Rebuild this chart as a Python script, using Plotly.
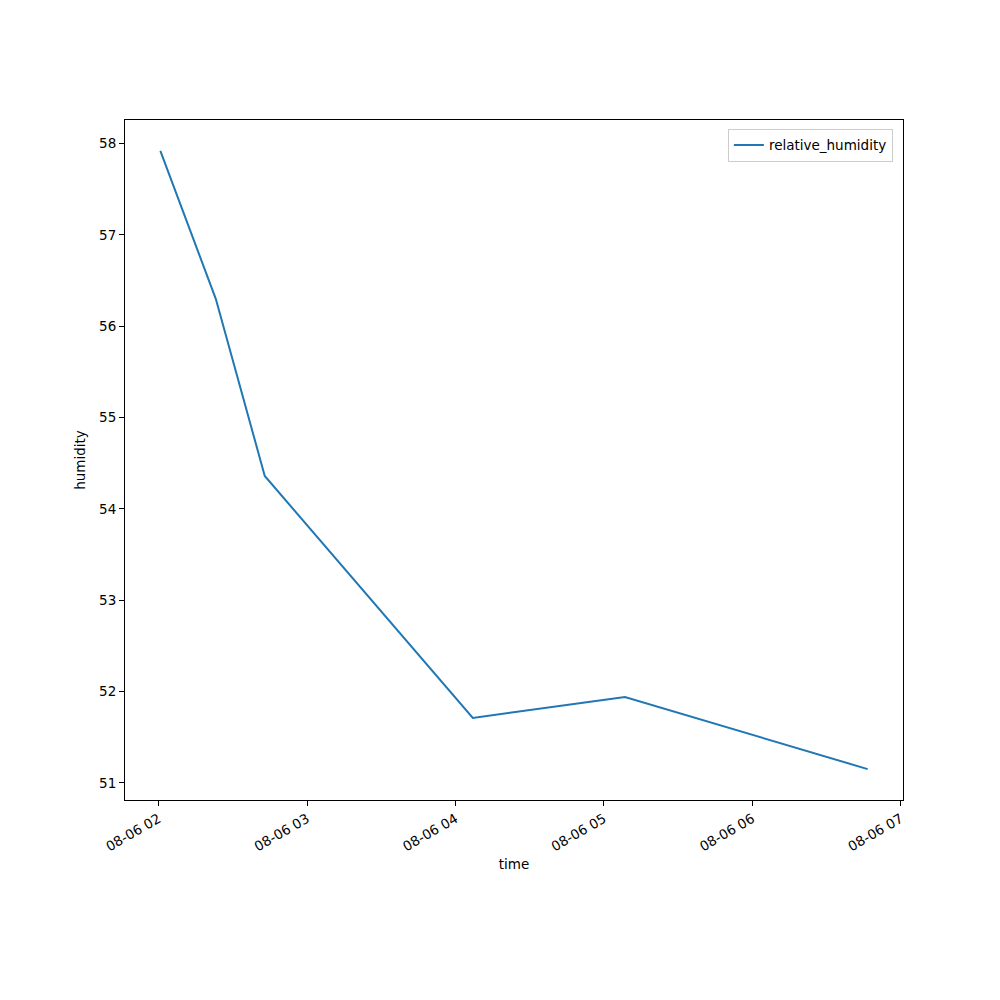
import plotly.graph_objects as go
import pandas as pd

times = ["2023-08-06 02:00:42", "2023-08-06 02:23:06", "2023-08-06 02:42:54",
         "2023-08-06 04:07:00", "2023-08-06 05:08:30", "2023-08-06 06:46:36"]
humidity = [57.92, 56.30, 54.36, 51.71, 51.94, 51.15]
series_name = "relative_humidity"
x_title = "time"
y_title = "humidity"

t = pd.to_datetime(times)
span = t.max() - t.min()
xr = [t.min() - span * 0.05, t.max() + span * 0.05]
ys = max(humidity) - min(humidity)
yr = [min(humidity) - ys * 0.05, max(humidity) + ys * 0.05]

fig = go.Figure()
fig.add_trace(go.Scatter(x=t, y=humidity, mode="lines", name=series_name,
                         line=dict(color="#1f77b4", width=2)))

font = dict(family="DejaVu Sans", size=13.5, color="black")
fig.update_layout(
    width=1000, height=1000,
    margin=dict(l=125, r=97, t=120, b=200),
    paper_bgcolor="white", plot_bgcolor="white",
    font=font,
    showlegend=True,
    legend=dict(x=0.987, y=0.987, xanchor="right", yanchor="top",
                bordercolor="#cccccc", borderwidth=1, bgcolor="white",
                font=font, tracegroupgap=0, itemwidth=30),
    xaxis=dict(
        range=xr, type="date", tickformat="%m-%d %H",
        tick0="2023-08-06 02:00:00", dtick=3600000,
        tickangle=-30, ticks="outside", ticklen=5, tickcolor="black",
        showline=True, linecolor="black", linewidth=1, mirror=True,
        showgrid=False, zeroline=False,
        title=dict(text=x_title, font=font, standoff=6),
    ),
    yaxis=dict(
        range=yr, dtick=1, ticks="outside", ticklen=5, tickcolor="black",
        showline=True, linecolor="black", linewidth=1, mirror=True,
        showgrid=False, zeroline=False,
        title=dict(text=y_title, font=font, standoff=10),
    ),
)
fig.write_html("out.html", config={"displayModeBar": False},
               post_script="document.body.style.margin='0';")
